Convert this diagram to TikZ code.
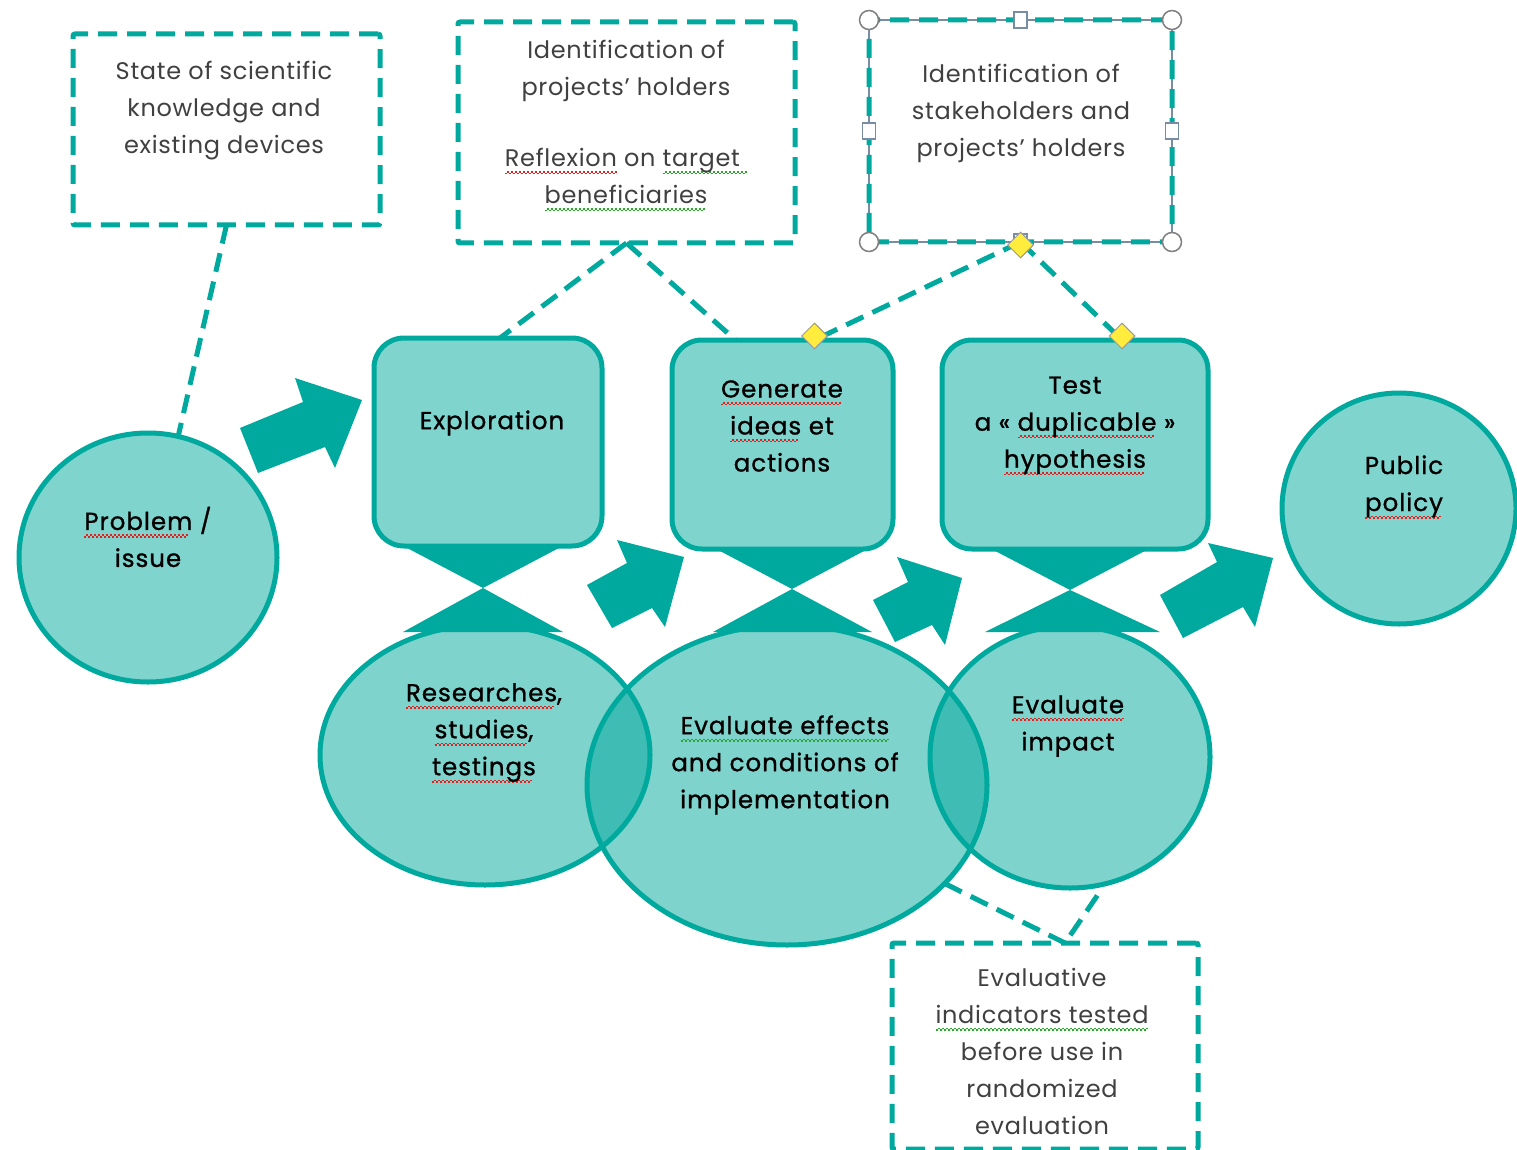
\documentclass[tikz,border=0pt]{standalone}
\usepackage{fontspec}
\setmainfont{Poppins}
\newfontfamily\stagefont[LetterSpace=4,FakeBold=1]{Poppins}
\newfontfamily\notefont[LetterSpace=3]{Poppins}
\usetikzlibrary{shapes.geometric}

\definecolor{tealmain}{RGB}{0,169,157}
\definecolor{teallight}{RGB}{128,212,206}
\definecolor{spellred}{RGB}{230,30,30}
\definecolor{spellgreen}{RGB}{40,170,40}
\definecolor{selgray}{RGB}{120,140,165}
\definecolor{handleyellow}{RGB}{255,236,60}

% wavy spell-check style underlines, built from small stepped rules
\newsavebox\wavebox
\newcommand\wavyline[2]{\leavevmode\sbox\wavebox{#2}%
  \rlap{\color{#1}\leaders\hbox{\rule[-7.6pt]{2pt}{1.5pt}\rule[-6pt]{2pt}{1.5pt}}\hskip\wd\wavebox}%
  \usebox\wavebox}
\newcommand\redwave[1]{\wavyline{spellred}{#1}}
\newcommand\greenwave[1]{\wavyline{spellgreen}{#1}}

\begin{document}
\begin{tikzpicture}[x=1pt,y=-1pt,
  bubble/.style={ellipse, draw=tealmain, line width=5pt, fill=tealmain,
    fill opacity=0.5, text opacity=1, inner sep=0pt, outer sep=0pt},
  disc/.style={ellipse, draw=tealmain, line width=5pt, fill=teallight,
    inner sep=0pt, outer sep=0pt},
  stagebox/.style={rectangle, rounded corners=30pt, draw=tealmain, line width=5pt,
    fill=teallight, inner sep=0pt, outer sep=0pt},
  notebox/.style={rectangle, rounded corners=2pt, draw=tealmain, line width=5pt,
    dash pattern=on 19pt off 10pt, inner sep=0pt, outer sep=0pt},
  link/.style={draw=tealmain, line width=5pt, dash pattern=on 19pt off 10pt},
  waist/.style={fill=tealmain},
  blockarrow/.style={fill=tealmain},
  label/.style={align=center, inner sep=0pt, font=\stagefont\fontsize{24.5}{37}\selectfont, text=black},
  notelabel/.style={align=center, inner sep=0pt, font=\notefont\fontsize{24}{37}\selectfont, text=black!75},
  cornerhandle/.style={circle, draw=black!50, line width=1.5pt, fill=white, minimum size=19pt, inner sep=0pt},
  sidehandle/.style={rectangle, draw=selgray, line width=1.5pt, fill=white, minimum width=13pt, minimum height=16pt, inner sep=0pt},
  adjhandle/.style={diamond, draw=black!40, line width=1pt, fill=handleyellow, minimum size=26pt, inner sep=0pt}
]
\useasboundingbox[fill=white] (0,0) rectangle (1517,1150);

% lower stage bubbles (semi-transparent, overlapping)
\node[bubble, minimum width=330pt, minimum height=260pt] (research) at (485,755) {};
\node[bubble, minimum width=400pt, minimum height=320pt] (effects) at (787,785) {};
\node[bubble, minimum width=280pt, minimum height=262pt] (impact) at (1070,757) {};

% hourglass links between upper boxes and lower bubbles
\fill[waist] (392,540) -- (574,540) -- (483,588) -- (563,632) -- (403,632) -- (483,588) -- cycle;
\fill[waist] (703,542) -- (881,542) -- (792,589) -- (872,632) -- (713,632) -- (792,589) -- cycle;
\fill[waist] (978,542) -- (1162,542) -- (1070,590) -- (1160,632) -- (985,632) -- (1070,590) -- cycle;

% upper stage boxes
\node[stagebox, minimum width=228pt, minimum height=208pt] (expl) at (488,442) {};
\node[stagebox, minimum width=221pt, minimum height=209pt] (gen) at (782.5,444.5) {};
\node[stagebox, minimum width=266pt, minimum height=209pt] (test) at (1075,444.5) {};

% start and end discs
\node[disc, minimum width=258pt, minimum height=249pt] (problem) at (148,557.5) {};
\node[disc, minimum width=234pt, minimum height=231pt] (policy) at (1399,508.5) {};

% block arrows
\fill[blockarrow] (240,428) -- (303,402) -- (295,378) -- (362,400) -- (335,468) -- (325,447) -- (258,473) -- cycle;
\fill[blockarrow] (587,585) -- (627,563) -- (617,540) -- (684,557) -- (665,627) -- (652,608) -- (612,628) -- cycle;
\fill[blockarrow] (873,600) -- (908,582) -- (897,557) -- (962,578) -- (945,645) -- (932,625) -- (895,642) -- cycle;
\fill[blockarrow] (1160,595) -- (1217,562) -- (1208,543) -- (1273,558) -- (1255,627) -- (1243,607) -- (1183,638) -- cycle;

% labels of the main stages
\node[label] (problemtxt) at (148,537) {\redwave{Problem} /\\issue};
\node[label] (expltxt) at (492,423) {Exploration};
\node[label] (gentxt) at (782,426) {\redwave{Generate}\\\redwave{ideas} et\\actions};
\node[label] (testtxt) at (1075,426) {Test\\a « \redwave{duplicable} »\\\redwave{hypothesis}};
\node[label] (policytxt) at (1404,487) {Public\\\redwave{policy}};
\node[label] (researchtxt) at (484,733) {\redwave{Researches},\\\redwave{studies},\\\redwave{testings}};
\node[label] (effectstxt) at (785,765) {\greenwave{Evaluate effects}\\and conditions of\\implementation};
\node[label] (impacttxt) at (1068,726) {\redwave{Evaluate}\\impact};

% selection frame of the stakeholders box (lies under its dashed outline)
\draw[selgray, line width=1.2pt] (869,20) rectangle (1172,242);

% annotation boxes
\node[notebox, minimum width=307pt, minimum height=191pt] (noteA) at (226.5,129.5) {};
\node[notebox, minimum width=337pt, minimum height=221pt] (noteB) at (626.5,132.5) {};
\node[notebox, minimum width=303pt, minimum height=222pt] (noteC) at (1020.5,131) {};
\node[notebox, minimum width=306pt, minimum height=206pt] (noteD) at (1045,1046) {};

\node[notelabel] (noteAtxt) at (224,111) {State of scientific\\knowledge and\\existing devices};
\node[notelabel] (noteBtxt) at (626,126) {Identification of\\projects’ holders\\[34pt]\redwave{Reflexion} on \greenwave{target\ }\\\greenwave{beneficiaries}};
\node[notelabel] (noteCtxt) at (1021,113) {Identification of\\stakeholders and\\projects’ holders};
\node[notelabel] (noteDtxt) at (1042,1051) {Evaluative\\\greenwave{indicators tested}\\before use in\\randomized\\evaluation};

% dashed connectors
\coordinate (dtop) at ([xshift=20pt]noteD.north);
\draw[link] (noteA.south) -- (problem.76);
\draw[link] (noteB.south) -- ([xshift=12pt]expl.north);
\draw[link] (noteB.south) -- ([xshift=-47pt]gen.north);
\draw[link] (noteC.south) -- ([xshift=32pt]gen.north);
\draw[link] (noteC.south) -- ([xshift=47pt]test.north);
\draw[link] (effects.-32) -- (dtop);
\draw[link] ([yshift=-10pt]impact.-78) -- (dtop);

% handles on the stakeholders box
\node[cornerhandle] (hnw) at (noteC.north west) {};
\node[cornerhandle] (hne) at (noteC.north east) {};
\node[cornerhandle] (hsw) at (noteC.south west) {};
\node[cornerhandle] (hse) at (noteC.south east) {};
\node[sidehandle] (hn) at (noteC.north) {};
\node[sidehandle] (hw) at (noteC.west) {};
\node[sidehandle] (he) at (noteC.east) {};
\node[sidehandle] (hs) at (noteC.south) {};
\node[adjhandle] (ha) at ([yshift=-3pt]noteC.south) {};
\node[adjhandle] (hb) at ([xshift=32pt,yshift=4pt]gen.north) {};
\node[adjhandle] (hc) at ([xshift=47pt,yshift=4pt]test.north) {};
\end{tikzpicture}
\end{document}
